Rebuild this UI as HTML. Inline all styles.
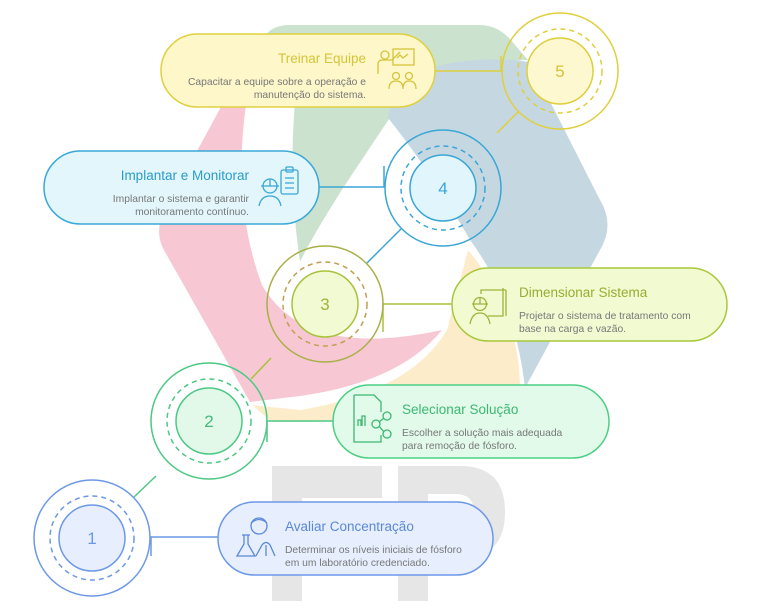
<!DOCTYPE html>
<html><head><meta charset="utf-8"><style>
html,body{margin:0;padding:0;background:#fff;}
svg{display:block;font-family:"Liberation Sans",sans-serif;}
</style></head><body>
<svg width="768" height="611" viewBox="0 0 768 611" xmlns="http://www.w3.org/2000/svg">
<!-- background logo -->
<g opacity="0.6">
<path d="M262,42 Q268,25 290,25 L480,25 Q500,25 515,45 L528,60 Q440,62 395,110 L345,185 Q310,240 300,262 Q285,160 300,60 Z" fill="#a8d0ae"/>
<path d="M395,80 Q460,52 530,62 L600,200 Q615,225 600,250 L525,388 Q515,300 470,240 Q430,170 388,118 Z" fill="#9fbfcf"/>
<path d="M222,105 L246,105 Q232,205 262,285 Q305,360 442,330 Q400,382 300,396 L250,402 L165,252 Q153,232 165,210 Z" fill="#f2a4b8"/>
<path d="M252,405 L300,410 Q410,392 447,330 L468,250 Q520,312 520,390 Q516,418 490,420 L272,422 Z" fill="#fde1a8"/>
</g>
<g fill="#e6e6e6">
<rect x="272" y="466" width="30" height="135"/>
<rect x="272" y="466" width="110" height="32"/>
<rect x="272" y="522" width="100" height="28"/>
<rect x="398" y="466" width="30" height="135"/>
<path d="M398,466 L460,466 Q505,466 505,512 Q505,558 460,558 L398,558 Z M428,494 L455,494 Q474,494 474,512 Q474,530 455,530 L428,530 Z" fill-rule="evenodd"/>
</g>

<!-- connectors -->
<g fill="none" stroke-width="1.5">
<path d="M435,71 H501 V56" stroke="#dfcf3c"/>
<path d="M518,112 L497,133" stroke="#dfcf3c"/>
<path d="M319,187 H384 V166" stroke="#3aa6d6"/>
<path d="M401,229 L367,263" stroke="#3aa6d6"/>
<path d="M452,304 H383 V332" stroke="#a8c23c"/>
<path d="M251,379 L271,358" stroke="#a8c23c"/>
<path d="M333,421 H267 V442" stroke="#4cc884"/>
<path d="M134,497 L156,476" stroke="#4cc884"/>
<path d="M218,537 H151 V556" stroke="#6c98e6"/>
</g>

<!-- circles -->
<g fill="none" stroke-width="1.5">
<circle cx="560" cy="71" r="58" stroke="#dfcf3c"/>
<circle cx="560" cy="71" r="42" stroke="#dfcf3c" stroke-dasharray="5,4"/>
<circle cx="560" cy="71" r="33" stroke="#dfcf3c" fill="#fdf8cf"/>
<circle cx="443" cy="188" r="58" stroke="#3aa6d6"/>
<circle cx="443" cy="188" r="42" stroke="#3aa6d6" stroke-dasharray="5,4"/>
<circle cx="443" cy="188" r="33" stroke="#3aa6d6" fill="#e0f5fc"/>
<circle cx="325" cy="304" r="58" stroke="#a8b048"/>
<circle cx="325" cy="304" r="42" stroke="#c0a050" stroke-dasharray="5,4"/>
<circle cx="325" cy="304" r="33" stroke="#a8c23c" fill="#f1fad2"/>
<circle cx="209" cy="421" r="58" stroke="#4cc884"/>
<circle cx="209" cy="421" r="42" stroke="#4cc884" stroke-dasharray="5,4"/>
<circle cx="209" cy="421" r="33" stroke="#4cc884" fill="#e2f9ea"/>
<circle cx="92" cy="538" r="58" stroke="#6c98e6"/>
<circle cx="92" cy="538" r="42" stroke="#6c98e6" stroke-dasharray="5,4"/>
<circle cx="92" cy="538" r="33" stroke="#6c98e6" fill="#e7efff"/>
</g>
<g font-size="17" text-anchor="middle">
<text x="560" y="77" fill="#d6c43a">5</text>
<text x="443" y="194" fill="#3aa6d6">4</text>
<text x="325" y="310" fill="#a0b43a">3</text>
<text x="209" y="427" fill="#44bb7a">2</text>
<text x="92" y="544" fill="#6c98e6">1</text>
</g>

<!-- boxes -->
<rect x="161" y="34" width="274" height="73" rx="36.5" fill="#fdf7c9" stroke="#e0d040" stroke-width="1.5"/>
<rect x="44" y="151" width="275" height="73" rx="36.5" fill="#e2f6fc" stroke="#3aa8d8" stroke-width="1.5"/>
<rect x="452" y="268" width="275" height="73" rx="36.5" fill="#f2fad2" stroke="#a8c83c" stroke-width="1.5"/>
<rect x="333" y="385" width="276" height="73" rx="36.5" fill="#e2faea" stroke="#4ccf84" stroke-width="1.5"/>
<rect x="218" y="502" width="275" height="73" rx="36.5" fill="#e7efff" stroke="#6c98e8" stroke-width="1.5"/>

<!-- texts -->
<g font-size="13.5">
<text x="366" y="63" text-anchor="end" fill="#d6c43a">Treinar Equipe</text>
<text x="249" y="180" text-anchor="end" fill="#2a9ccc">Implantar e Monitorar</text>
<text x="519" y="297" fill="#96ae30">Dimensionar Sistema</text>
<text x="402" y="414" fill="#3cb872">Selecionar Solução</text>
<text x="285" y="531" fill="#5a88d8">Avaliar Concentração</text>
</g>
<g font-size="10.3" fill="#777">
<text x="366" y="85" text-anchor="end">Capacitar a equipe sobre a operação e</text>
<text x="366" y="98" text-anchor="end">manutenção do sistema.</text>
<text x="249" y="202" text-anchor="end">Implantar o sistema e garantir</text>
<text x="249" y="215" text-anchor="end">monitoramento contínuo.</text>
<text x="519" y="319">Projetar o sistema de tratamento com</text>
<text x="519" y="332">base na carga e vazão.</text>
<text x="402" y="436">Escolher a solução mais adequada</text>
<text x="402" y="449">para remoção de fósforo.</text>
<text x="285" y="553">Determinar os níveis iniciais de fósforo</text>
<text x="285" y="566">em um laboratório credenciado.</text>
</g>

<!-- icons -->
<g fill="none" stroke-width="1.3">
<g stroke="#d6c43a">
<circle cx="385" cy="55" r="4"/><path d="M378,74 V64 Q378,60 383,60 L392,60 L400,52"/>
<rect x="393" y="49" width="21" height="16"/><path d="M397,58 l3,-3 l3,3 l5,-4"/>
<circle cx="396" cy="76" r="3.5"/><circle cx="409" cy="76" r="3.5"/>
<path d="M389,89 Q389,81 396,81 Q403,81 403,89 M403,89 Q403,81 409,81 Q416,81 416,89"/>
</g>
<g stroke="#3aa6d6">
<circle cx="270" cy="186" r="7"/><path d="M261,186 H279 M270,179 V186"/>
<path d="M259,206 Q261,196 270,196 Q279,196 281,206"/>
<rect x="281" y="170" width="17" height="24" rx="2"/><rect x="286" y="167" width="7" height="5" rx="1"/>
<path d="M285,178 H294 M285,183 H294 M285,188 H294"/>
</g>
<g stroke="#a0b43a">
<circle cx="480" cy="304" r="6.5"/><path d="M472,304 H488 M480,297 V304"/>
<path d="M470,324 Q472,313 480,313 Q488,313 490,324"/>
<path d="M481,294 V290 H506 M503,288 V316 H488 M506,290 V316"/>
</g>
<g stroke="#3cb872">
<path d="M354,395 H374 L381,402 V412 M354,395 V442 H381 V435"/>
<path d="M358,426 V420 H361 V426 M362,426 V416 H365 V426"/>
<circle cx="376" cy="424" r="4"/><circle cx="387" cy="416" r="4"/><circle cx="387" cy="434" r="4"/>
<path d="M379,422 L384,418 M379,426 L384,432"/>
</g>
<g stroke="#5a88d8">
<circle cx="259" cy="526" r="8"/><path d="M251,523 Q259,516 267,523"/>
<path d="M242,535 H250 M244,535 V544 L237,556 H255 L248,544 V535"/>
<path d="M256,556 L262,545 Q266,540 270,545 L275,556 M266,545 V556"/>
</g>
</g>
</svg>
</body></html>
